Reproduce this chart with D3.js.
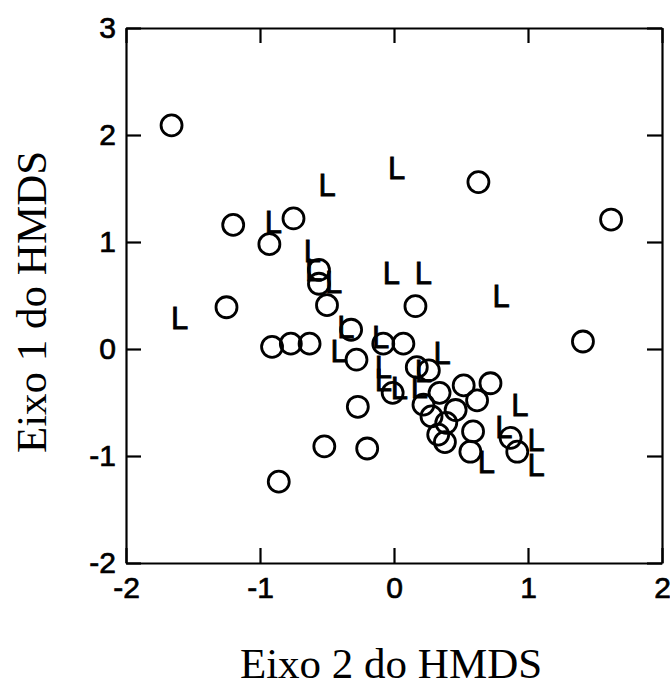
<!DOCTYPE html>
<html>
<head>
<meta charset="utf-8">
<script src="https://cdn.jsdelivr.net/npm/d3@7"></script>
<style>
  body { margin: 0; background: #fff; }
  svg { display: block; }
  .title { font-family: "Liberation Serif", "Times New Roman", serif; font-size: 43px; fill: #000; }
</style>
</head>
<body>
<script>
// sites drawn as open circles
var circleX = [-1.66, 0.63, -1.20, -0.75, -0.93, -0.56, -0.56, -0.50, -1.25, 1.62,
               0.16, 1.41, -0.91, -0.77, -0.63, -0.32, -0.28, -0.08, 0.07, 0.17,
               0.26, -0.01, 0.52, 0.72, 0.34, 0.22, 0.62, 0.28, 0.46, 0.39,
               0.33, 0.38, 0.59, 0.57, 0.87, 0.92, -0.27, -0.52, -0.20, -0.86];
var circleY = [2.09, 1.56, 1.16, 1.22, 0.98, 0.74, 0.61, 0.41, 0.39, 1.21,
               0.40, 0.07, 0.02, 0.05, 0.05, 0.18, -0.10, 0.05, 0.05, -0.17,
               -0.20, -0.41, -0.34, -0.32, -0.41, -0.52, -0.48, -0.63, -0.57, -0.69,
               -0.80, -0.87, -0.77, -0.96, -0.83, -0.96, -0.54, -0.91, -0.93, -1.24];

// sites drawn with the letter L
var lX = [-0.50, 0.02, -0.90, -0.61, -0.60, -0.45, -1.60, -0.02, 0.22, 0.80,
          -0.36, -0.41, -0.10, 0.36, -0.08, -0.08, 0.22, 0.69, 0.94, 0.82,
          1.06, 1.06, 0.04, 0.19];
var lY = [1.53, 1.69, 1.19, 0.92, 0.74, 0.63, 0.29, 0.71, 0.71, 0.50,
          0.21, -0.02, 0.11, -0.04, -0.17, -0.29, -0.20, -1.05, -0.52, -0.73,
          -0.85, -1.08, -0.36, -0.35];

var xTicks = [-2, -1, 0, 1, 2];
var yTicks = [-2, -1, 0, 1, 2, 3];
var xTitle = "Eixo 2 do HMDS";
var yTitle = "Eixo 1 do HMDS";

var width = 670, height = 683;
var plotLeft = 126, plotRight = 662, plotTop = 28, plotBottom = 563;
var sans = "'Liberation Sans', Arial, sans-serif";

var svg = d3.select("body").append("svg")
  .attr("width", width)
  .attr("height", height);

var x = d3.scaleLinear().domain([-2, 2]).range([plotLeft, plotRight]);
var y = d3.scaleLinear().domain([-2, 3]).range([plotBottom, plotTop]);

var fmt = function (d) { return String(d); };

function styleAxis(g) {
  g.attr("font-family", sans).attr("font-size", 30);
  g.selectAll(".domain").attr("stroke", "#000").attr("stroke-width", 2.2);
  g.selectAll(".tick line").attr("stroke", "#000").attr("stroke-width", 2.2);
  g.selectAll(".tick text").attr("fill", "#000")
    .attr("stroke", "#000").attr("stroke-width", 0.7);
}

svg.append("g")
  .attr("transform", "translate(0," + plotBottom + ")")
  .call(d3.axisBottom(x).tickValues(xTicks).tickFormat(fmt).tickSizeInner(-15).tickSizeOuter(0).tickPadding(14))
  .call(styleAxis);

svg.append("g")
  .attr("transform", "translate(0," + plotTop + ")")
  .call(d3.axisTop(x).tickValues(xTicks).tickSizeInner(-15).tickSizeOuter(0).tickFormat(""))
  .call(styleAxis);

svg.append("g")
  .attr("transform", "translate(" + plotLeft + ",0)")
  .call(d3.axisLeft(y).tickValues(yTicks).tickFormat(fmt).tickSizeInner(-15).tickSizeOuter(0).tickPadding(10))
  .call(styleAxis);

svg.append("g")
  .attr("transform", "translate(" + plotRight + ",0)")
  .call(d3.axisRight(y).tickValues(yTicks).tickSizeInner(-15).tickSizeOuter(0).tickFormat(""))
  .call(styleAxis);

// circles
svg.append("g").selectAll("circle")
  .data(circleX.map(function (d, i) { return [d, circleY[i]]; }))
  .enter().append("circle")
  .attr("cx", function (d) { return x(d[0]); })
  .attr("cy", function (d) { return y(d[1]); })
  .attr("r", 10.5)
  .attr("fill", "none")
  .attr("stroke", "#000")
  .attr("stroke-width", 2.8);

// L letters
svg.append("g").selectAll("text")
  .data(lX.map(function (d, i) { return [d, lY[i]]; }))
  .enter().append("text")
  .attr("x", function (d) { return x(d[0]); })
  .attr("y", function (d) { return y(d[1]); })
  .attr("dy", "0.36em")
  .attr("text-anchor", "middle")
  .attr("font-family", sans)
  .attr("font-size", 31)
  .attr("stroke", "#000")
  .attr("stroke-width", 0.8)
  .text("L");

svg.append("text")
  .attr("class", "title")
  .attr("x", 391)
  .attr("y", 678)
  .attr("text-anchor", "middle")
  .text(xTitle);

svg.append("text")
  .attr("class", "title")
  .attr("transform", "translate(46,302) rotate(-90)")
  .attr("text-anchor", "middle")
  .text(yTitle);
</script>
</body>
</html>
